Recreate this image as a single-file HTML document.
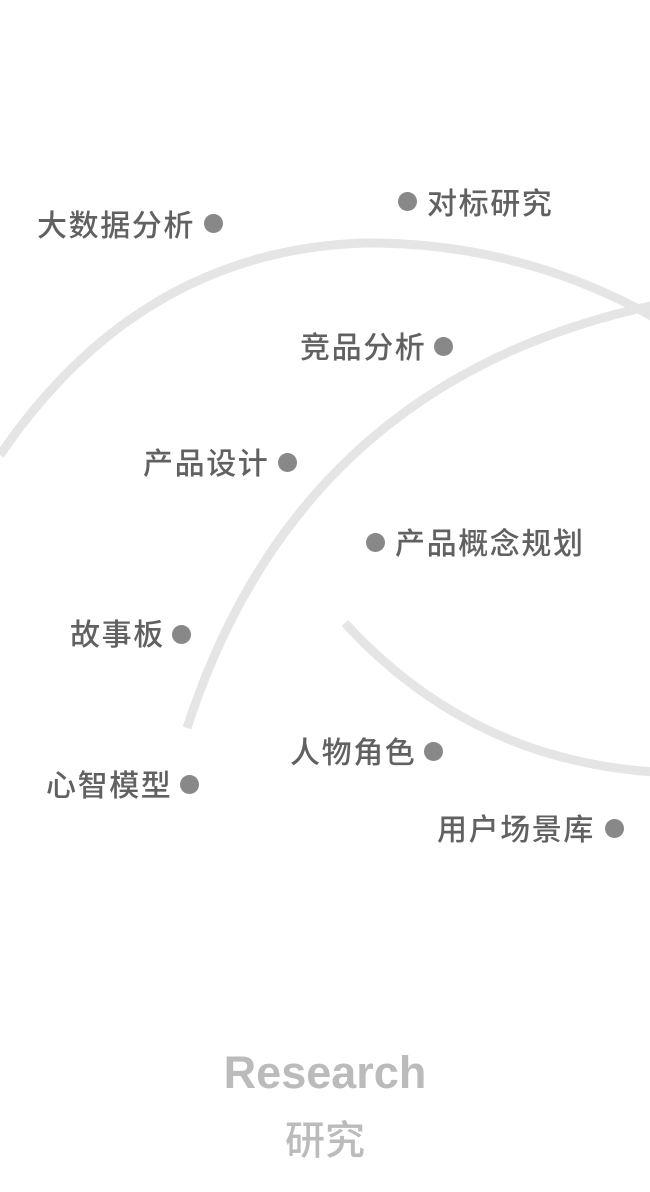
<!DOCTYPE html>
<html><head><meta charset="utf-8"><style>
html,body{margin:0;padding:0;background:#fff;}
body{width:650px;height:1192px;position:relative;overflow:hidden;font-family:"Liberation Sans","Noto Sans CJK SC",sans-serif;}
.t{position:absolute;font-size:30px;color:#616161;line-height:36px;letter-spacing:1.6px;white-space:nowrap;font-weight:500;}
.d{position:absolute;width:19px;height:19px;border-radius:50%;background:#888;}
</style></head><body>
<svg width="650" height="1192" style="position:absolute;left:0;top:0">
<g fill="none" stroke="#e5e5e5" stroke-width="9">
<path d="M0,455 Q140,250 365,243 Q520,242 655,318"/>
<path d="M187,728 Q300,380 655,305"/>
<path d="M345,623 Q470,760 655,772"/>
</g></svg>
<div class="t" style="left:37px;top:209px">大数据分析</div><div class="d" style="left:204px;top:214px"></div>
<div class="d" style="left:398px;top:192px"></div><div class="t" style="left:427px;top:187px">对标研究</div>
<div class="t" style="left:300px;top:331px">竞品分析</div><div class="d" style="left:434px;top:337px"></div>
<div class="t" style="left:143px;top:447px">产品设计</div><div class="d" style="left:278px;top:453px"></div>
<div class="d" style="left:366px;top:533px"></div><div class="t" style="left:395px;top:527px">产品概念规划</div>
<div class="t" style="left:70px;top:618px">故事板</div><div class="d" style="left:172px;top:625px"></div>
<div class="t" style="left:290px;top:736px">人物角色</div><div class="d" style="left:424px;top:742px"></div>
<div class="t" style="left:46px;top:769px">心智模型</div><div class="d" style="left:180px;top:775px"></div>
<div class="t" style="left:437px;top:813px">用户场景库</div><div class="d" style="left:605px;top:819px"></div>
<div style="position:absolute;left:0;width:650px;top:1047px;text-align:center;font-size:45px;font-weight:bold;color:#bbb;line-height:52px">Research</div>
<div style="position:absolute;left:0;width:650px;top:1116px;text-align:center;font-size:40px;color:#bbb;line-height:50px;font-weight:500">研究</div>
</body></html>
